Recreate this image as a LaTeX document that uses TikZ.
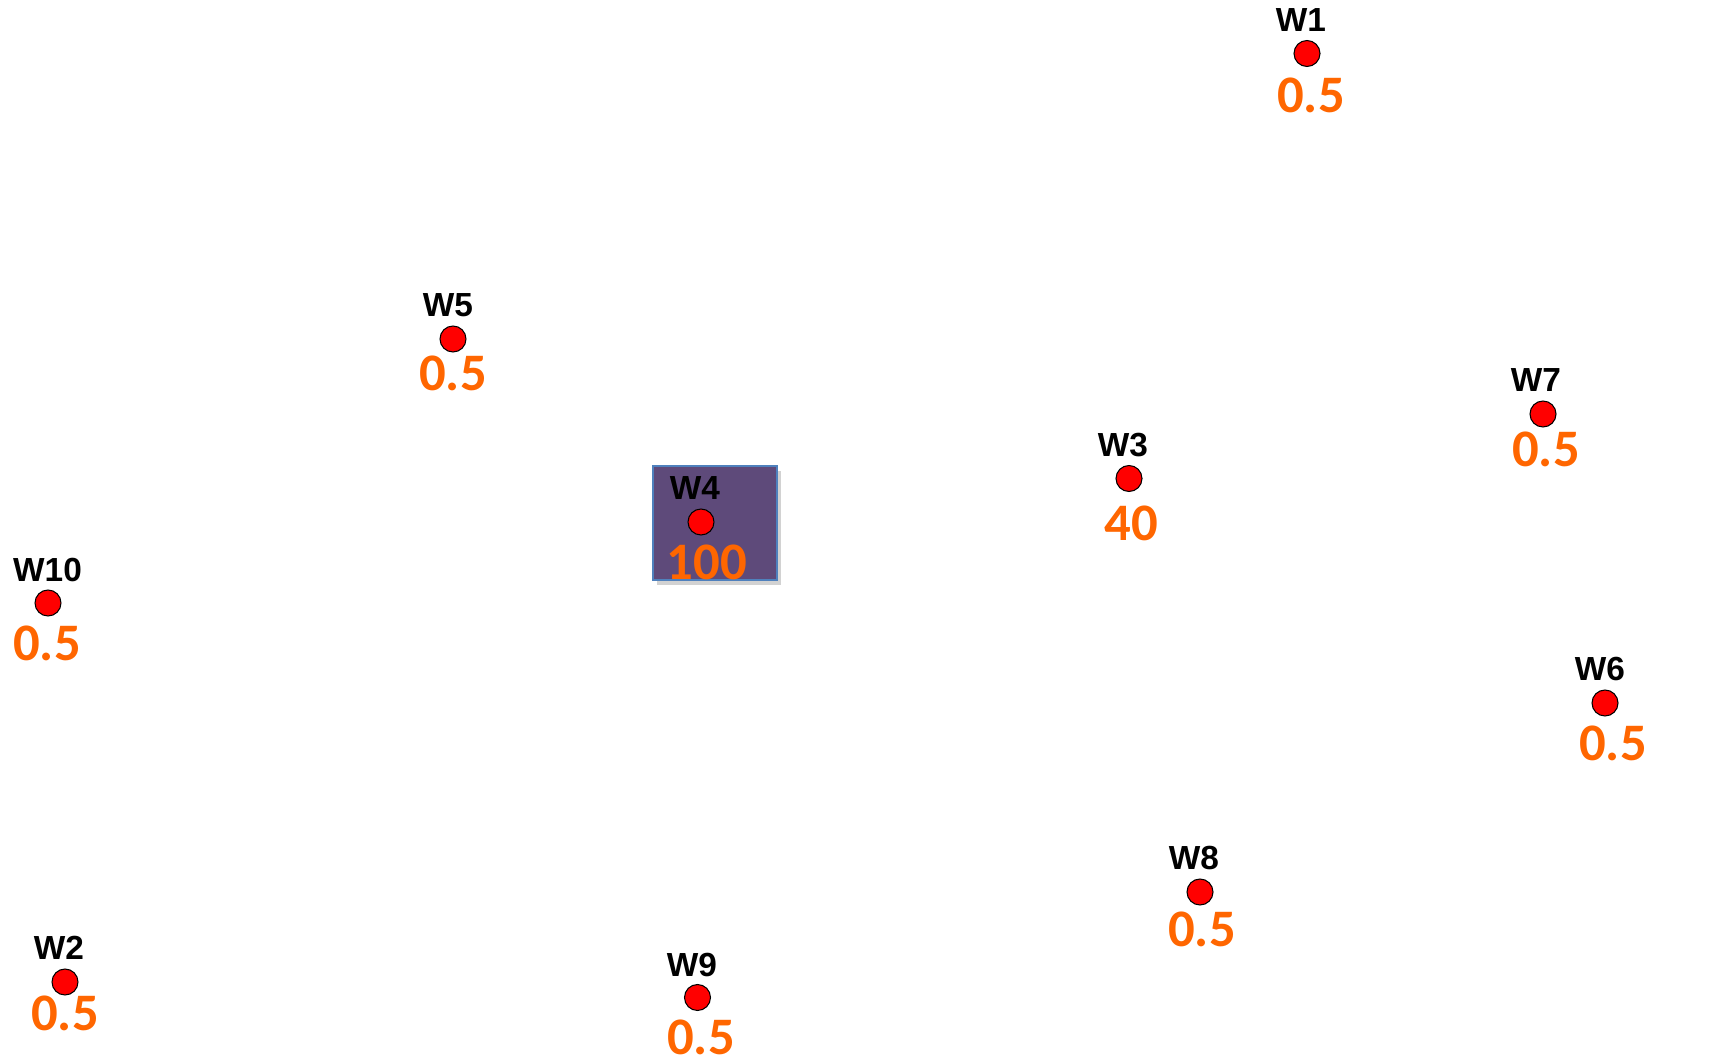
\documentclass[tikz,border=0pt]{standalone}
\usepackage{fontspec}
\setmainfont{Liberation Sans}
\newfontfamily\numfont{Carlito}
\usetikzlibrary{shadows}
\definecolor{wred}{HTML}{FF0000}
\definecolor{worange}{HTML}{FF6600}
\definecolor{boxfill}{HTML}{5E4A7A}
\definecolor{boxline}{HTML}{4F81BD}
\begin{document}
\begin{tikzpicture}[x={(0.02cm,0)},y={(0,-0.02cm)},
  well/.style={circle,draw=black,fill=wred,minimum size=26*0.02cm,inner sep=0pt,line width=0.6pt},
  wlabel/.style={font=\fontsize{19}{19}\selectfont\bfseries,text=black,inner sep=0pt},
  wval/.style={font=\numfont\fontsize{30}{30}\selectfont\bfseries,text=worange,inner sep=0pt},
  zone/.style={draw=boxline,fill=boxfill,line width=1pt,drop shadow={shadow xshift=2pt,shadow yshift=-3pt,opacity=0.35}}]
\useasboundingbox (0,0) rectangle (1717,1064);
\fill[white] (0,0) rectangle (1717,1064);
% W4 zone box
\node[zone,minimum width=124*0.02cm,minimum height=114*0.02cm,inner sep=0pt] (zone4) at (715,523) {};
% wells
\node[well] (w1) at (1307,53.5) {};
\node[wlabel] (l1) at (1301,20) {W1};
\node[wval] (v1) at (1311,95) {0.5};
\node[well] (w5) at (453,339) {};
\node[wlabel] (l5) at (448,305) {W5};
\node[wval] (v5) at (453,373) {0.5};
\node[well] (w7) at (1543,414) {};
\node[wlabel] (l7) at (1536,380) {W7};
\node[wval] (v7) at (1546,449) {0.5};
\node[well] (w3) at (1129,478.5) {};
\node[wlabel] (l3) at (1123,445) {W3};
\node[wval] (v3) at (1131,523) {40};
\node[well] (w4) at (701,522) {};
\node[wlabel] (l4) at (695,488) {W4};
\node[wval] (v4) at (707,562) {100};
\node[well] (w10) at (48,603) {};
\node[wlabel] (l10) at (47.5,570) {W10};
\node[wval] (v10) at (47,643) {0.5};
\node[well] (w6) at (1605,703) {};
\node[wlabel] (l6) at (1600,669) {W6};
\node[wval] (v6) at (1613,743.5) {0.5};
\node[well] (w8) at (1200,892) {};
\node[wlabel] (l8) at (1194,858) {W8};
\node[wval] (v8) at (1202,929) {0.5};
\node[well] (w2) at (65,982) {};
\node[wlabel] (l2) at (59,948) {W2};
\node[wval] (v2) at (65,1013) {0.5};
\node[well] (w9) at (697.5,997.5) {};
\node[wlabel] (l9) at (692,965) {W9};
\node[wval] (v9) at (701,1037) {0.5};
% left edge crop
\fill[white] (0,540) rectangle (13,590);
\end{tikzpicture}
\end{document}
